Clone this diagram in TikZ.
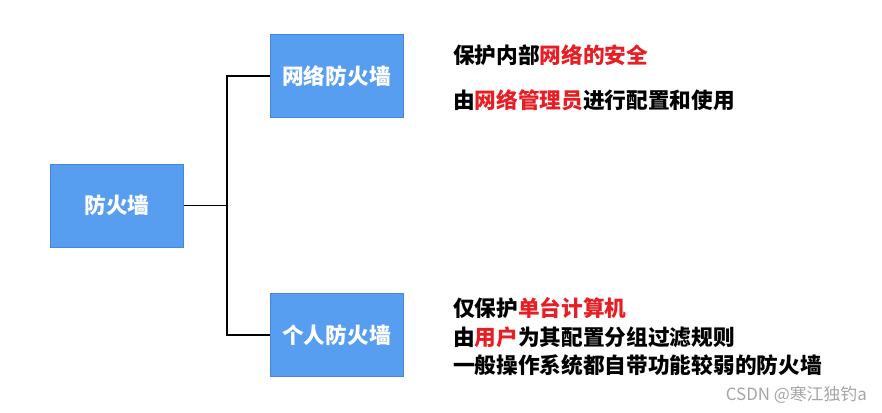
\documentclass[tikz,border=0pt]{standalone}
\usepackage{fontspec}
\setmainfont{Noto Sans CJK SC}
\usetikzlibrary{positioning}
\definecolor{boxblue}{RGB}{88,158,240}
\definecolor{boxedge}{RGB}{70,135,215}
\definecolor{hired}{RGB}{232,30,36}
\definecolor{markgray}{RGB}{165,165,165}
\newcommand{\hl}[1]{\textcolor{hired}{#1}}
\tikzset{
  wallbox/.style={draw=boxedge, fill=boxblue, text=white, line width=0.4pt,
    minimum width=4cm, minimum height=2.5cm, inner sep=0,
    font=\fontsize{18.5}{22}\selectfont\bfseries},
  noteline/.style={anchor=west, inner sep=0, font=\fontsize{18.5}{22}\selectfont\bfseries},
  link/.style={line width=1.6pt, line join=miter}
}
\begin{document}
\begin{tikzpicture}[x=0.03cm, y=-0.03cm]
\useasboundingbox (0,0) rectangle (882,412);
\node[wallbox] (root) at (117,205.5) {防火墙};
\node[wallbox] (net) at (336.5,76) {网络防火墙};
\node[wallbox] (pc) at (336.5,335) {个人防火墙};
\coordinate (fork) at (227,205.5);
\draw[link] (root.east) -- (fork);
\draw[link] (net.west) -| (fork) |- (pc.west);
\node[noteline] (net1) at (453,55) {保护内部\hl{网络的安全}};
\node[noteline] (net2) at (453,100) {由\hl{网络管理员}进行配置和使用};
\node[noteline] (pc1) at (453,308) {仅保护\hl{单台计算机}};
\node[noteline] (pc2) at (453,337) {由\hl{用户}为其配置分组过滤规则};
\node[noteline] (pc3) at (453,365) {一般操作系统都自带功能较弱的防火墙};
\node[anchor=east, inner sep=0, text=markgray, font=\fontsize{14.4}{16}\selectfont] (mark) at (867,395) {CSDN @寒江独钓a};
\end{tikzpicture}
\end{document}
